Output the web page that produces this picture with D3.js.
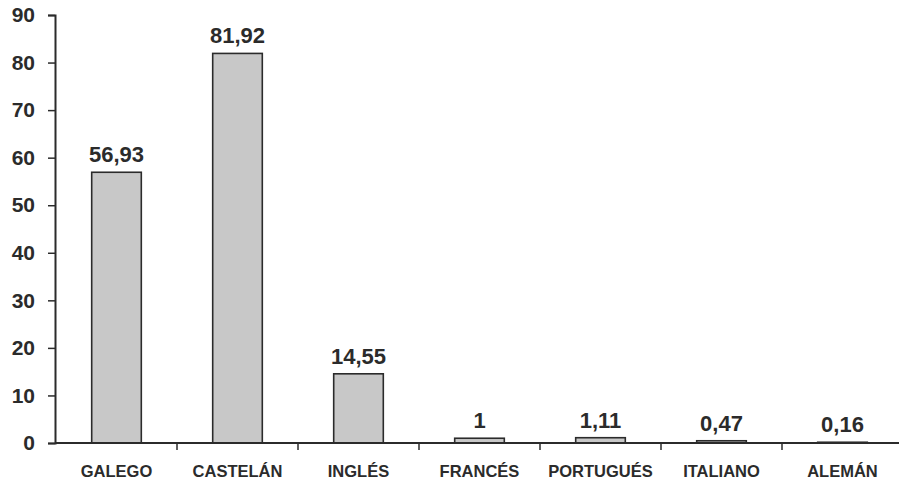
<!DOCTYPE html>
<html>
<head>
<meta charset="utf-8">
<script src="https://cdn.jsdelivr.net/npm/d3@7"></script>
<style>
	body { margin: 0; background: #fff; }
	svg { display: block; font-family: "Liberation Sans", Arial, sans-serif; }
</style>
</head>
<body>
<svg id="chart" width="899" height="483"></svg>
<script>

const languages = ["GALEGO", "CASTELÁN", "INGLÉS", "FRANCÉS", "PORTUGUÉS", "ITALIANO", "ALEMÁN"];
const values = [56.93, 81.92, 14.55, 1, 1.11, 0.47, 0.16];
const value_labels = ["56,93", "81,92", "14,55", "1", "1,11", "0,47", "0,16"];
const y_ticks = [0, 10, 20, 30, 40, 50, 60, 70, 80, 90];

const svg = d3.select("#chart");
const ink = "#2b2b2b";

const x = d3.scaleBand()
	.domain(languages)
	.range([56, 903])
	.paddingInner(0.59)
	.paddingOuter(0.295);

const y = d3.scaleLinear()
	.domain([0, 90])
	.range([443, 15]);

// y axis
const y_axis = svg.append("g")
	.attr("transform", "translate(55,0)")
	.call(d3.axisLeft(y).tickValues(y_ticks).tickSize(7).tickPadding(13).tickFormat(d3.format("d")));
y_axis.select(".domain").attr("stroke", ink).attr("stroke-width", 2);
y_axis.selectAll(".tick line").attr("stroke", ink).attr("stroke-width", 1.5);
y_axis.selectAll(".tick text")
	.attr("fill", ink)
	.style("font-size", "21px")
	.style("font-weight", "bold");

// bars
svg.append("g").selectAll("rect")
	.data(values)
	.enter()
	.append("rect")
		.attr("x", (d, i) => x(languages[i]))
		.attr("y", d => y(d))
		.attr("width", x.bandwidth())
		.attr("height", d => y(0) - y(d))
		.attr("fill", "#c8c8c8")
		.attr("stroke", ink)
		.attr("stroke-width", 1.6);

// x axis line and band ticks
svg.append("line")
	.attr("x1", 55).attr("x2", 899)
	.attr("y1", y(0)).attr("y2", y(0))
	.attr("stroke", ink).attr("stroke-width", 2);

const step = x.step();
svg.append("g").selectAll("line")
	.data(languages)
	.enter()
	.append("line")
		.attr("x1", d => x(d) - x.paddingOuter() * step + step)
		.attr("x2", d => x(d) - x.paddingOuter() * step + step)
		.attr("y1", y(0)).attr("y2", y(0) + 7)
		.attr("stroke", ink).attr("stroke-width", 1.5);

// category labels
svg.append("g").selectAll("text")
	.data(languages)
	.enter()
	.append("text")
		.attr("x", d => x(d) + x.bandwidth() / 2)
		.attr("y", 477)
		.attr("text-anchor", "middle")
		.attr("fill", ink)
		.style("font-size", "16.5px")
		.style("font-weight", "bold")
		.text(d => d);

// value labels
svg.append("g").selectAll("text")
	.data(values)
	.enter()
	.append("text")
		.attr("x", (d, i) => x(languages[i]) + x.bandwidth() / 2)
		.attr("y", d => y(d) - 10)
		.attr("text-anchor", "middle")
		.attr("fill", ink)
		.style("font-size", "22px")
		.style("font-weight", "bold")
		.text((d, i) => value_labels[i]);

</script>
</body>
</html>
